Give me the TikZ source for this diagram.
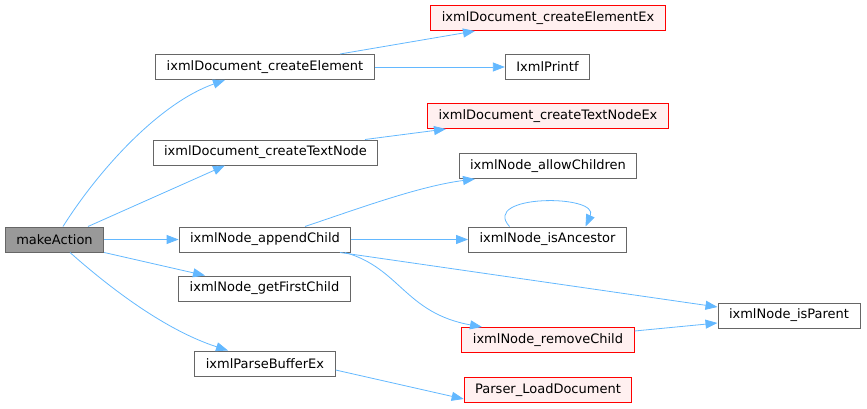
\documentclass[tikz,border=0pt]{standalone}
\usepackage{fontspec}
\setmainfont{DejaVu Sans}
\usetikzlibrary{arrows.meta}
\definecolor{edgeblue}{HTML}{63B8FF}
\definecolor{boxgray}{HTML}{666666}
\definecolor{rootfill}{HTML}{999999}
\definecolor{redfill}{HTML}{FFF0F0}
\begin{document}
\begin{tikzpicture}[x=1pt,y=1pt,
		fn/.style={draw=boxgray,line width=1pt,fill=white,minimum height=25pt,inner xsep=11pt,inner ysep=0pt,font=\fontsize{13}{15}\selectfont},
		root/.style={fn,fill=rootfill},
		ext/.style={fn,draw=red,fill=redfill},
		call/.style={draw=edgeblue,line width=0.8pt,-{Triangle[length=12pt,width=9pt]}}]
		\useasboundingbox (0,0) rectangle (867,408);
		% Call graph of makeAction
		\node[root] (makeAction) at (54.5,168.5) {makeAction};
		\node[fn] (createElement) at (265,341) {ixmlDocument\_createElement};
		\node[fn] (createTextNode) at (265.5,255.5) {ixmlDocument\_createTextNode};
		\node[fn] (appendChild) at (265,168.5) {ixmlNode\_appendChild};
		\node[fn] (getFirstChild) at (264.5,119.5) {ixmlNode\_getFirstChild};
		\node[fn] (parseBufferEx) at (265,44.5) {ixmlParseBufferEx};
		\node[ext] (createElementEx) at (548,390) {ixmlDocument\_createElementEx};
		\node[fn] (printf) at (547.5,341) {IxmlPrintf};
		\node[ext] (createTextNodeEx) at (548,292) {ixmlDocument\_createTextNodeEx};
		\node[fn] (allowChildren) at (548,242) {ixmlNode\_allowChildren};
		\node[fn] (isAncestor) at (547.5,168.5) {ixmlNode\_isAncestor};
		\node[fn] (isParent) at (789,92.5) {ixmlNode\_isParent};
		\node[ext] (removeChild) at (548,68) {ixmlNode\_removeChild};
		\node[ext] (loadDocument) at (548,18) {Parser\_LoadDocument};
		
		\draw[call] ([xshift=8.5pt]makeAction.north) .. controls (100,240) and (160,305) .. ([xshift=-40pt]createElement.south);
		\draw[call] ([xshift=33.5pt]makeAction.north) to ([xshift=-40.5pt]createTextNode.south);
		\draw[call] (makeAction.east) to (appendChild.west);
		\draw[call] (makeAction.south east) to ([xshift=-59.5pt]getFirstChild.north);
		\draw[call] ([xshift=15.5pt]makeAction.south) .. controls (110,120) and (165,78) .. ([xshift=-37pt]parseBufferEx.north);
		\draw[call] ([xshift=75pt]createElement.north) to ([xshift=-73pt]createElementEx.south);
		\draw[call] (createElement.east) to (printf.west);
		\draw[call] ([xshift=99.5pt]createTextNode.north) to ([xshift=-102pt]createTextNodeEx.south);
		\draw[call] ([xshift=40pt]appendChild.north) .. controls (360,200) and (420,222) .. ([xshift=-73pt]allowChildren.south);
		\draw[call] (appendChild.east) to (isAncestor.west);
		\draw[call] ([xshift=-38pt]isAncestor.north) .. controls (480,214) and (600,214) .. ([xshift=38pt]isAncestor.north);
		\draw[call] ([xshift=75pt]appendChild.south) to ([yshift=8.5pt]isParent.west);
		\draw[call] ([xshift=80pt]appendChild.south) .. controls (400,140) and (405,95) .. ([xshift=-66pt]removeChild.north);
		\draw[call] ([yshift=9pt]removeChild.east) to ([yshift=-7.5pt]isParent.west);
		\draw[call] ([yshift=-6.5pt]parseBufferEx.east) to ([yshift=-9pt]loadDocument.west);
		
	\end{tikzpicture}
\end{document}
